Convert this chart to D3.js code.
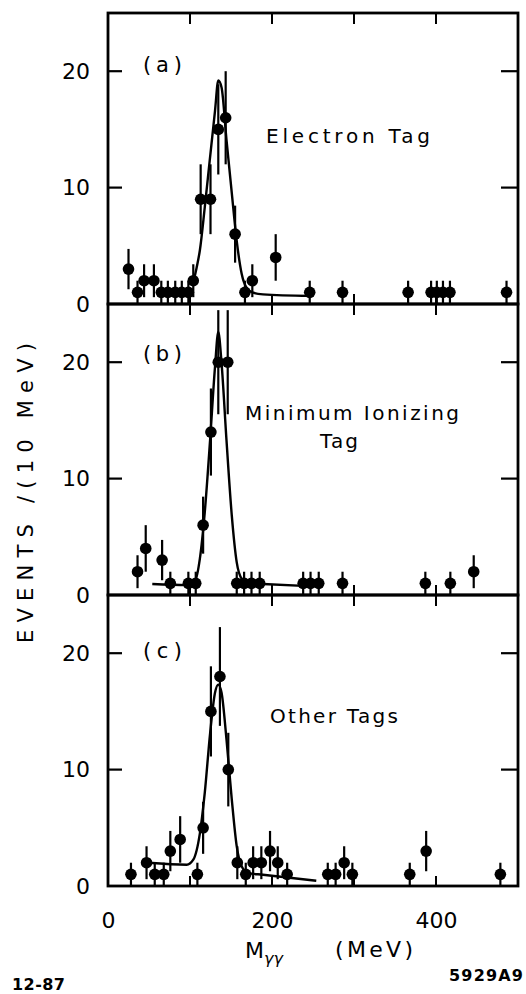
<!DOCTYPE html>
<html>
<head>
<meta charset="utf-8">
<script src="https://cdn.jsdelivr.net/npm/d3@7"></script>
<style>
  body { margin: 0; background: #fff; }
  svg { display: block; }
  text { font-family: "DejaVu Sans", sans-serif; fill: #000; }
</style>
</head>
<body>
<svg id="chart" width="526" height="994"></svg>
<script>
var massA   = [25, 36, 44, 56, 65, 73, 82, 90, 98, 104, 113, 125, 134.5, 143.5, 155, 167, 176, 204.5, 246, 286, 366, 394, 401, 408.5, 417, 486];
var eventsA = [3, 1, 2, 2, 1, 1, 1, 1, 1, 2, 9, 9, 15, 16, 6, 1, 2, 4, 1, 1, 1, 1, 1, 1, 1, 1];

var massB   = [36, 46, 66, 76, 98, 107, 116, 125.5, 134.5, 146, 157, 166, 175, 185, 238, 247, 257, 286, 387, 417.5, 446];
var eventsB = [2, 4, 3, 1, 1, 1, 6, 14, 20, 20, 1, 1, 1, 1, 1, 1, 1, 1, 1, 1, 2];

var massC   = [28, 47, 57, 68, 76, 88, 109, 116, 125.5, 136.5, 146.7, 157.7, 168, 177, 187, 197.6, 207, 218.5, 268, 277.6, 288, 298, 368, 388, 478.5];
var eventsC = [1, 2, 1, 1, 3, 4, 1, 5, 15, 18, 10, 2, 1, 2, 2, 3, 2, 1, 1, 1, 2, 1, 1, 3, 1];

// fitted curves
var fitMassA   = [104, 108, 112, 118, 124, 130.5, 134.5, 138.5, 144.5, 151, 157, 163, 169, 177, 189, 246];
var fitEventsA = [1.85, 3.1, 4.6, 8.3, 12.3, 16.6, 19.2, 18.6, 14.1, 9.5, 5.4, 2.6, 1.4, 0.97, 0.83, 0.7];

var fitMassB   = [54, 96, 106, 112, 118, 124.5, 130.5, 134.5, 138.5, 144.5, 151, 157, 163, 171, 189, 250];
var fitEventsB = [0.94, 0.85, 1.2, 3.1, 7.1, 13.3, 19.6, 22.6, 19.9, 13.3, 6.8, 2.8, 1.4, 1.0, 0.95, 0.74];

var fitMassC   = [49, 96, 104, 112, 118, 124.5, 130.5, 134.5, 138.5, 144.5, 151, 157, 163, 171, 189, 254];
var fitEventsC = [2.0, 1.83, 2.26, 4.5, 8.0, 13.1, 16.6, 17.3, 16.6, 12.6, 7.4, 3.4, 1.7, 1.1, 0.97, 0.45];

var yTicks = [0, 10, 20];
var yInnerTicks = [10, 20];
var xTickLabels = [0, 200, 400];
var xInnerTicks = [100, 200, 300, 400];
var panelNames = ["(a)", "(b)", "(c)"];
var tagNames = [["Electron Tag"], ["Minimum Ionizing", "Tag"], ["Other Tags"]];

var panels = [
  {mass: massA, events: eventsA, fitMass: fitMassA, fitEvents: fitEventsA},
  {mass: massB, events: eventsB, fitMass: fitMassB, fitEvents: fitEventsB},
  {mass: massC, events: eventsC, fitMass: fitMassC, fitEvents: fitEventsC}
];

var svg = d3.select("#chart");
var panelTop = [13, 304, 595];
var panelH = 291;

var xScale = d3.scaleLinear().domain([0, 500]).range([108, 518]);

// where the text sits in each panel
var nameY = [72, 361, 658];
var tagPos = [
  [{x: 266, y: 143, len: 164}],
  [{x: 245, y: 420, len: 214}, {x: 320, y: 448, len: 38}],
  [{x: 270, y: 723, len: 128}]
];

panels.forEach(function(p, i) {
  var top = panelTop[i];
  var yScale = d3.scaleLinear().domain([0, 25]).range([top + panelH, top]);
  var g = svg.append('g');

  // left axis with labels
  var yAxis = g.append('g')
      .attr('transform', 'translate(' + xScale(0) + ',0)')
      .call(d3.axisLeft(yScale).tickValues(yTicks).tickSizeInner(0).tickSizeOuter(0).tickPadding(18).tickFormat(d3.format('d')));
  yAxis.select('.domain').remove();
  yAxis.selectAll('text').attr('font-size', 22).attr('font-family', '"DejaVu Sans", sans-serif');

  // inward ticks
  g.selectAll('.lt').data(yInnerTicks).enter().append('line')
      .attr('x1', xScale(0)).attr('x2', xScale(0) + 14)
      .attr('y1', function(d) { return yScale(d); }).attr('y2', function(d) { return yScale(d); })
      .attr('stroke', '#000').attr('stroke-width', 2.2);
  g.selectAll('.rt').data(yInnerTicks).enter().append('line')
      .attr('x1', xScale(500)).attr('x2', xScale(500) - 17)
      .attr('y1', function(d) { return yScale(d); }).attr('y2', function(d) { return yScale(d); })
      .attr('stroke', '#000').attr('stroke-width', 2.2);
  g.selectAll('.tt').data(xInnerTicks).enter().append('line')
      .attr('x1', function(d) { return xScale(d); }).attr('x2', function(d) { return xScale(d); })
      .attr('y1', top).attr('y2', top + 11)
      .attr('stroke', '#000').attr('stroke-width', 2);
  g.selectAll('.bt').data(xInnerTicks).enter().append('line')
      .attr('x1', function(d) { return xScale(d); }).attr('x2', function(d) { return xScale(d); })
      .attr('y1', top + panelH).attr('y2', top + panelH - 10)
      .attr('stroke', '#000').attr('stroke-width', 2);

  // frame
  g.append('rect')
      .attr('x', xScale(0)).attr('y', top)
      .attr('width', xScale(500) - xScale(0)).attr('height', panelH)
      .attr('fill', 'none').attr('stroke', '#000').attr('stroke-width', 2.8);

  // fit curve
  var fitData = p.fitMass.map(function(m, k) { return {m: m, v: p.fitEvents[k]}; });
  g.append('path').datum(fitData)
      .attr('fill', 'none').attr('stroke', '#000').attr('stroke-width', 2.4)
      .attr('d', d3.line().curve(d3.curveMonotoneX)
          .x(function(d) { return xScale(d.m); })
          .y(function(d) { return yScale(d.v); }));

  // points with sqrt(N) error bars
  var pts = p.mass.map(function(m, k) { return {m: m, n: p.events[k]}; });
  g.selectAll('.err').data(pts).enter().append('line')
      .attr('x1', function(d) { return xScale(d.m); }).attr('x2', function(d) { return xScale(d.m); })
      .attr('y1', function(d) { return yScale(d.n - Math.sqrt(d.n)); })
      .attr('y2', function(d) { return yScale(d.n + Math.sqrt(d.n)); })
      .attr('stroke', '#000').attr('stroke-width', 2.2);
  g.selectAll('.dot').data(pts).enter().append('circle')
      .attr('cx', function(d) { return xScale(d.m); })
      .attr('cy', function(d) { return yScale(d.n); })
      .attr('r', 5.8).attr('fill', '#000');

  // panel letter and tag text
  g.append('text').attr('x', 143).attr('y', nameY[i]).attr('font-size', 21)
      .attr('textLength', 39).attr('lengthAdjust', 'spacing')
      .text(panelNames[i]);
  tagNames[i].forEach(function(t, k) {
    var pos = tagPos[i][k];
    g.append('text').attr('x', pos.x).attr('y', pos.y).attr('font-size', 20)
        .attr('textLength', pos.len).attr('lengthAdjust', 'spacing')
        .text(t);
  });
});

// bottom x labels
var xAxis = svg.append('g')
    .attr('transform', 'translate(0,' + (panelTop[2] + panelH) + ')')
    .call(d3.axisBottom(xScale).tickValues(xTickLabels).tickSize(0).tickPadding(26).tickFormat(d3.format('d')));
xAxis.select('.domain').remove();
xAxis.selectAll('text').attr('font-size', 22).attr('font-family', '"DejaVu Sans", sans-serif');

// axis titles
var xt = svg.append('text').attr('x', 245).attr('y', 958).attr('font-size', 22);
xt.append('tspan').text('M');
xt.append('tspan').attr('dy', 6).attr('font-size', 16).attr('font-style', 'italic').text('γγ');
svg.append('text').attr('x', 335).attr('y', 957).attr('font-size', 22)
    .attr('textLength', 78).attr('lengthAdjust', 'spacing').text('(MeV)');

svg.append('text')
    .attr('transform', 'translate(33,493) rotate(-90)')
    .attr('text-anchor', 'middle').attr('font-size', 21)
    .attr('textLength', 300).attr('lengthAdjust', 'spacing')
    .text('EVENTS /(10 MeV)');

svg.append('text').attr('x', 12).attr('y', 990).attr('font-size', 16).attr('font-weight', 'bold')
    .attr('textLength', 53).attr('lengthAdjust', 'spacing').text('12-87');
svg.append('text').attr('x', 449).attr('y', 981).attr('font-size', 16).attr('font-weight', 'bold')
    .attr('textLength', 74).attr('lengthAdjust', 'spacing').text('5929A9');
</script>
</body>
</html>
